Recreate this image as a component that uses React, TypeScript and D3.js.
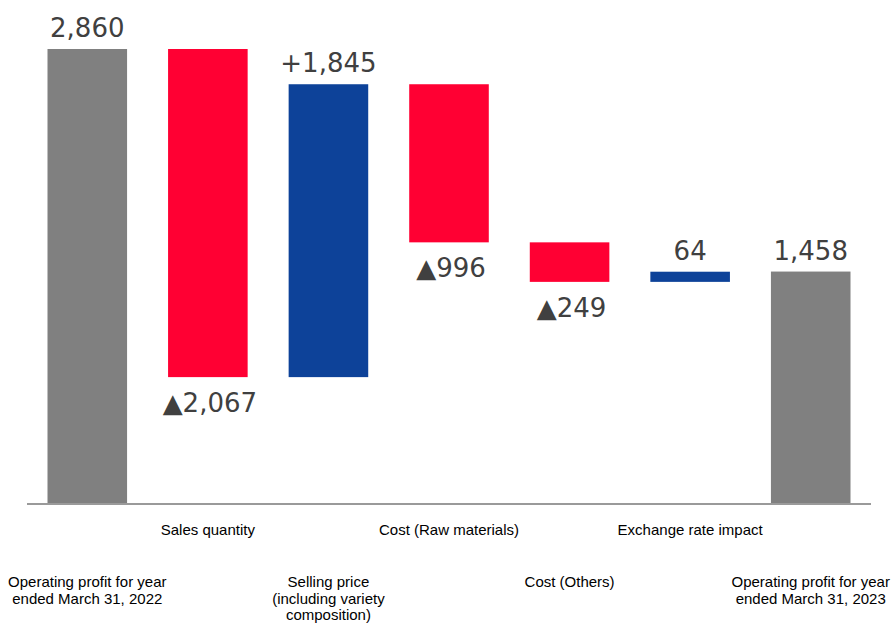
import React from "react";
import * as d3 from "d3";

const categories: string[][] = [
  ["Operating profit for year", "ended March 31, 2022"],
  ["Sales quantity"],
  ["Selling price", "(including variety", "composition)"],
  ["Cost (Raw materials)"],
  ["Cost (Others)"],
  ["Exchange rate impact"],
  ["Operating profit for year", "ended March 31, 2023"],
];
const kinds: string[] = ["total", "delta", "delta", "delta", "delta", "delta", "total"];
const values: number[] = [2860, -2067, 1845, -996, -249, 64, 1458];
const valueLabels: string[] = ["2,860", "▲2,067", "+1,845", "▲996", "▲249", "64", "1,458"];

const W = 892;
const H = 624;
const GRAY = "#808080";
const RED = "#FF0033";
const BLUE = "#0D4299";
const TEXT = "#404040";

export default function App() {
  const ids = categories.map((_, i) => String(i));
  const x = d3.scaleBand<string>().domain(ids).range([27, 871]).paddingInner(0.34).paddingOuter(0.17);
  const y = d3.scaleLinear().domain([0, 2860]).range([503, 49]);

  let running = 0;
  const bars = values.map((v, i) => {
    let lo: number, hi: number;
    if (kinds[i] === "total") {
      lo = 0;
      hi = v;
      running = v;
    } else {
      const start = running;
      const end = running + v;
      lo = Math.min(start, end);
      hi = Math.max(start, end);
      running = end;
    }
    const color = kinds[i] === "total" ? GRAY : v < 0 ? RED : BLUE;
    return { i, v, lo, hi, color };
  });

  return (
    <svg width={W} height={H} style={{ position: "absolute", left: 0, top: 0, background: "#fff" }}>
      {bars.map((b) => {
        const x0 = x(String(b.i))!;
        const bw = x.bandwidth();
        const cx = x0 + bw / 2;
        const top = y(b.hi);
        const bottom = y(b.lo);
        const labelY = b.v < 0 ? bottom + 35 : top - 12;
        return (
          <g key={b.i}>
            <rect x={x0} y={top} width={bw} height={Math.max(1, bottom - top)} fill={b.color} />
            <text
              x={cx + (b.v < 0 ? 2 : 0)}
              y={labelY}
              textAnchor="middle"
              fontFamily="'DejaVu Sans', Verdana, sans-serif"
              fontSize={26}
              fill={TEXT}
            >
              {valueLabels[b.i]}
            </text>
          </g>
        );
      })}
      <line x1={27} x2={871} y1={y(0) + 1} y2={y(0) + 1} stroke="#9a9a9a" strokeWidth={2} />
      {categories.map((lines, i) => {
        const cx = x(String(i))! + x.bandwidth() / 2;
        const baseY = i % 2 === 1 ? 535 : 587;
        return (
          <text
            key={i}
            x={cx}
            y={baseY}
            textAnchor="middle"
            fontFamily="'Liberation Sans', Arial, sans-serif"
            fontSize={15}
            fill="#000"
          >
            {lines.map((l, j) => (
              <tspan key={j} x={cx} dy={j === 0 ? 0 : 16.5}>
                {l}
              </tspan>
            ))}
          </text>
        );
      })}
    </svg>
  );
}
